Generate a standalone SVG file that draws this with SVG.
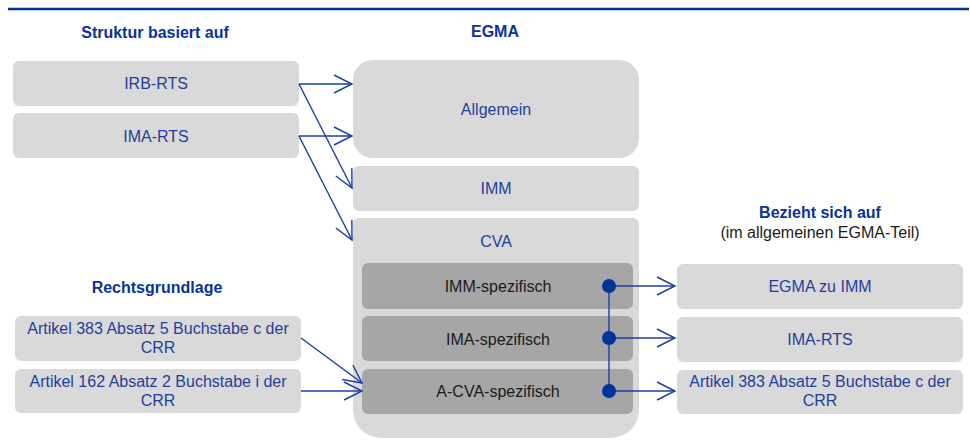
<svg xmlns="http://www.w3.org/2000/svg" width="970" height="448" viewBox="0 0 970 448">
<defs>
<style>
.box{fill:#d9d9d9}
.inner{fill:#a6a6a6}
.t{font-family:"Liberation Sans",Arial,sans-serif;font-size:16px;fill:#1f3f9c;text-anchor:middle}
.td{font-family:"Liberation Sans",Arial,sans-serif;font-size:16px;fill:#1a1a1a;text-anchor:middle}
.h{font-family:"Liberation Sans",Arial,sans-serif;font-size:16px;font-weight:bold;fill:#0a3399;text-anchor:middle}
.c{fill:none;stroke:#1a3fa0;stroke-width:1.4}
.dot{fill:#003399}
</style>
<marker id="ah" markerUnits="userSpaceOnUse" markerWidth="24" markerHeight="24" viewBox="-20 -12 22 24" refX="0" refY="0" orient="auto">
<path d="M-18,-9 L0,0 L-18,9" fill="none" stroke="#1a3fa0" stroke-width="1.4"/>
</marker>
</defs>
<rect width="970" height="448" fill="#ffffff"/>
<line x1="8" y1="9" x2="969" y2="9" stroke="#003399" stroke-width="2.5"/>

<g id="headings">
<text class="h" x="155" y="38">Struktur basiert auf</text>
<text class="h" x="495" y="37">EGMA</text>
<text class="h" x="157" y="293">Rechtsgrundlage</text>
<text class="h" x="820" y="218">Bezieht sich auf</text>
<text class="td" x="820" y="238">(im allgemeinen EGMA-Teil)</text>
</g>

<g id="irb-rts">
<rect class="box" x="13" y="61" width="286" height="45" rx="6"/>
<text class="t" x="156" y="89">IRB-RTS</text>
</g>
<g id="ima-rts-left">
<rect class="box" x="13" y="113" width="286" height="45" rx="6"/>
<text class="t" x="156" y="142">IMA-RTS</text>
</g>

<g id="allgemein">
<rect class="box" x="353" y="60" width="286" height="98" rx="20"/>
<text class="t" x="496" y="115">Allgemein</text>
</g>
<g id="imm">
<rect class="box" x="353" y="166" width="286" height="45" rx="6"/>
<text class="t" x="496" y="194">IMM</text>
</g>
<g id="cva">
<path class="box" d="M359,218 H633 A6,6 0 0 1 639,224 V410 A28,28 0 0 1 611,438 H381 A28,28 0 0 1 353,410 V224 A6,6 0 0 1 359,218 Z"/>
<text class="t" x="496" y="247">CVA</text>
</g>
<g id="imm-spezifisch">
<rect class="inner" x="362" y="263" width="271" height="46" rx="6"/>
<text class="td" x="498" y="292">IMM-spezifisch</text>
</g>
<g id="ima-spezifisch">
<rect class="inner" x="362" y="316" width="271" height="45" rx="6"/>
<text class="td" x="498" y="345">IMA-spezifisch</text>
</g>
<g id="acva-spezifisch">
<rect class="inner" x="362" y="369" width="271" height="45" rx="6"/>
<text class="td" x="498" y="397">A-CVA-spezifisch</text>
</g>

<g id="art383-left">
<rect class="box" x="15" y="316" width="286" height="45" rx="6"/>
<text class="t" x="158" y="334">Artikel 383 Absatz 5 Buchstabe c der</text>
<text class="t" x="158" y="353">CRR</text>
</g>
<g id="art162-left">
<rect class="box" x="15" y="369" width="286" height="44" rx="6"/>
<text class="t" x="158" y="387">Artikel 162 Absatz 2 Buchstabe i der</text>
<text class="t" x="158" y="406">CRR</text>
</g>

<g id="egma-zu-imm">
<rect class="box" x="677" y="264" width="286" height="45" rx="6"/>
<text class="t" x="820" y="292">EGMA zu IMM</text>
</g>
<g id="ima-rts-right">
<rect class="box" x="677" y="317" width="286" height="45" rx="6"/>
<text class="t" x="820" y="345">IMA-RTS</text>
</g>
<g id="art383-right">
<rect class="box" x="677" y="370" width="286" height="44" rx="6"/>
<text class="t" x="820" y="387">Artikel 383 Absatz 5 Buchstabe c der</text>
<text class="t" x="820" y="406">CRR</text>
</g>

<g id="connectors">
<line class="c" x1="299" y1="84" x2="352" y2="84" marker-end="url(#ah)"/>
<line class="c" x1="299" y1="84" x2="352" y2="188" marker-end="url(#ah)"/>
<line class="c" x1="299" y1="136" x2="352" y2="136" marker-end="url(#ah)"/>
<line class="c" x1="299" y1="136" x2="352" y2="240" marker-end="url(#ah)"/>
<line class="c" x1="301" y1="338" x2="362" y2="383" marker-end="url(#ah)"/>
<line class="c" x1="301" y1="391" x2="362" y2="391" marker-end="url(#ah)"/>
<line class="c" x1="609" y1="286" x2="609" y2="391"/>
<line class="c" x1="609" y1="286" x2="675" y2="286" marker-end="url(#ah)"/>
<line class="c" x1="609" y1="338" x2="675" y2="338" marker-end="url(#ah)"/>
<line class="c" x1="609" y1="391" x2="675" y2="391" marker-end="url(#ah)"/>
<circle class="dot" cx="609" cy="286" r="7"/>
<circle class="dot" cx="609" cy="338" r="7"/>
<circle class="dot" cx="609" cy="391" r="7"/>
</g>
</svg>
